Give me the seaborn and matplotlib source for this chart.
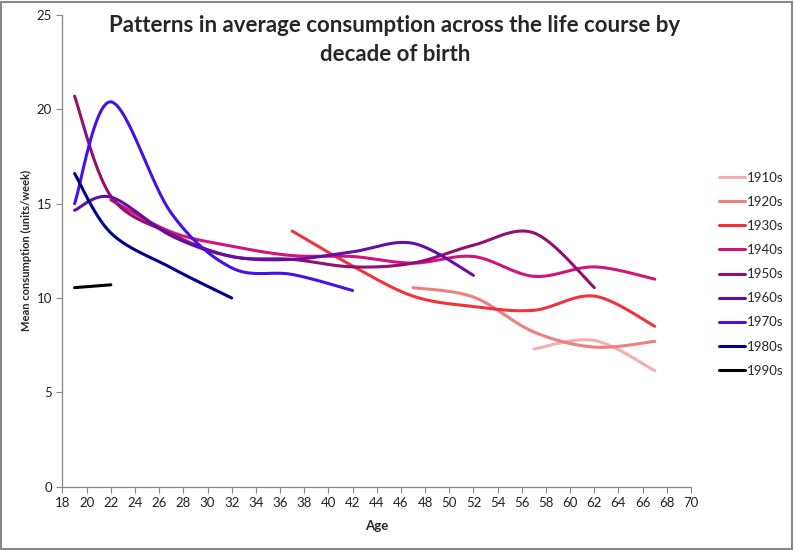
import numpy as np
import pandas as pd
import seaborn as sns
import matplotlib.pyplot as plt

# mean consumption (units/week) by age, one list per decade of birth
ages_1910s = [57, 62, 67]
vals_1910s = [7.3, 7.75, 6.15]
ages_1920s = [47, 52, 57, 62, 67]
vals_1920s = [10.55, 10.05, 8.2, 7.4, 7.7]
ages_1930s = [37, 42, 47, 52, 57, 62, 67]
vals_1930s = [13.55, 11.7, 10.1, 9.55, 9.35, 10.1, 8.5]
ages_1940s = [22, 27, 32, 37, 42, 47, 52, 57, 62, 67]
vals_1940s = [15.2, 13.5, 12.75, 12.25, 12.2, 11.85, 12.2, 11.15, 11.65, 11.0]
ages_1950s = [19, 22, 27, 32, 37, 42, 47, 52, 57, 62]
vals_1950s = [20.7, 15.4, 13.4, 12.2, 12.05, 11.65, 11.85, 12.8, 13.45, 10.55]
ages_1960s = [19, 22, 27, 32, 37, 42, 47, 52]
vals_1960s = [14.65, 15.35, 13.3, 12.2, 12.05, 12.45, 12.9, 11.2]
ages_1970s = [19, 22, 27, 32, 37, 42]
vals_1970s = [15.0, 20.4, 14.5, 11.6, 11.25, 10.4]
ages_1980s = [19, 22, 27, 32]
vals_1980s = [16.6, 13.45, 11.6, 10.0]
ages_1990s = [19, 22]
vals_1990s = [10.55, 10.7]

cohorts = ["1910s", "1920s", "1930s", "1940s", "1950s", "1960s", "1970s", "1980s", "1990s"]
series = {
    "1910s": (ages_1910s, vals_1910s),
    "1920s": (ages_1920s, vals_1920s),
    "1930s": (ages_1930s, vals_1930s),
    "1940s": (ages_1940s, vals_1940s),
    "1950s": (ages_1950s, vals_1950s),
    "1960s": (ages_1960s, vals_1960s),
    "1970s": (ages_1970s, vals_1970s),
    "1980s": (ages_1980s, vals_1980s),
    "1990s": (ages_1990s, vals_1990s),
}
colors = ["#F4AEAE", "#EE7E80", "#F0333A", "#D0157A", "#93106E",
          "#6210A2", "#4512E2", "#00008F", "#000000"]


def smooth(xs, ys, n=25):
    # excel style smoothed line (bezier through the points)
    P = np.column_stack([xs, ys]).astype(float)
    if len(P) < 3:
        return P[:, 0], P[:, 1]
    out = []
    for i in range(len(P) - 1):
        p0 = P[max(i - 1, 0)]
        p1 = P[i]
        p2 = P[i + 1]
        p3 = P[min(i + 2, len(P) - 1)]
        b1 = p1 + (p2 - p0) / 6
        b2 = p2 - (p3 - p1) / 6
        t = np.linspace(0, 1, n, endpoint=(i == len(P) - 2))[:, None]
        out.append((1 - t) ** 3 * p1 + 3 * (1 - t) ** 2 * t * b1
                   + 3 * (1 - t) * t ** 2 * b2 + t ** 3 * p2)
    out = np.vstack(out)
    return out[:, 0], out[:, 1]


rows = []
for c in cohorts:
    x, y = smooth(*series[c])
    rows.append(pd.DataFrame({"cohort": c, "age": x, "value": y}))
df = pd.concat(rows, ignore_index=True)

sns.set_theme(style="white")
plt.rcParams["font.family"] = ["Lato", "DejaVu Sans"]

fig = plt.figure(figsize=(7.94, 5.5), dpi=100)
ax = fig.add_axes([0.0787, 0.1151, 0.7916, 0.8576])

sns.lineplot(data=df, x="age", y="value", hue="cohort", hue_order=cohorts,
             palette=colors, estimator=None, sort=False, linewidth=2.2, ax=ax)

ax.set_xlim(18, 70)
ax.set_ylim(0, 25)
ax.set_xticks(range(18, 71, 2))
ax.set_yticks(range(0, 26, 5))
ax.tick_params(axis="both", labelsize=9.5, colors="#222222", length=4,
               width=0.8, direction="out", left=True, bottom=True)
ax.tick_params(axis="both", color="#868686")
for s in ["top", "right"]:
    ax.spines[s].set_visible(False)
for s in ["left", "bottom"]:
    ax.spines[s].set_color("#868686")
    ax.spines[s].set_linewidth(0.9)

ax.set_xlabel("Age", fontsize=9.5, fontweight="bold", labelpad=8)
ax.set_ylabel("Mean consumption (units/week)", fontsize=8, fontweight="bold", labelpad=3)

fig.text(0.4975, 0.927, "Patterns in average consumption across the life course by\ndecade of birth",
         ha="center", va="center", fontsize=16, fontweight="bold", linespacing=1.45)

handles, labels = ax.get_legend_handles_labels()
ax.legend(handles, labels, loc="upper left", bbox_to_anchor=(0.897, 0.700),
          bbox_transform=fig.transFigure, frameon=False, fontsize=9.5,
          handlelength=2.0, handletextpad=0.15, labelspacing=0.92, borderpad=0)

fig.patches.append(plt.Rectangle((0.001, 0.002), 0.997, 0.995, transform=fig.transFigure,
                                 fill=False, edgecolor="#888888", linewidth=1.5))

fig.savefig("out.png", dpi=100)
